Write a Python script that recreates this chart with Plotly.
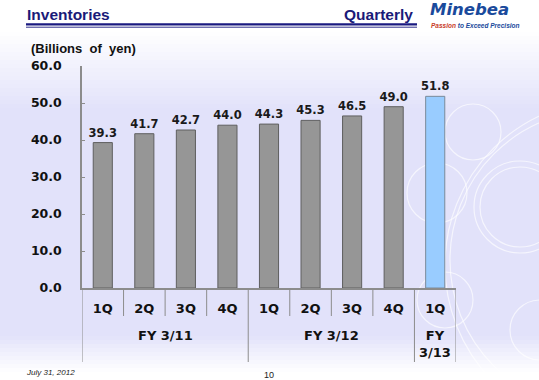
import plotly.graph_objects as go

fiscal_years = ["FY 3/11"] * 4 + ["FY 3/12"] * 4 + ["FY<br>3/13"]
quarters = ["1Q", "2Q", "3Q", "4Q", "1Q", "2Q", "3Q", "4Q", "1Q"]
inventories = [39.3, 41.7, 42.7, 44.0, 44.3, 45.3, 46.5, 49.0, 51.8]
bar_colors = ["#969696"] * 8 + ["#99ccff"]
line_colors = ["#5f5f5f"] * 8 + ["#7a8a9a"]

categories = [f"{fy} {q}" for fy, q in zip(fiscal_years, quarters)]

W, H = 539, 380
X0, X1, YT, YB = 82, 456, 66, 288
AXFONT = "DejaVu Sans"


def px(x):
    return (x - X0) / (X1 - X0)


def py(y):
    return (YB - y) / (YB - YT)


fig = go.Figure()
fig.add_trace(go.Bar(
    x=categories,
    y=inventories,
    marker=dict(color=bar_colors, line=dict(color=line_colors, width=1)),
    text=[f"{v:.1f}" for v in inventories],
    textposition="outside",
    constraintext="none",
    textfont=dict(family=AXFONT, size=11.5, color="#1a1a1a", weight="bold"),
    cliponaxis=False,
    hoverinfo="skip",
))

shapes = []


def lerp(c1, c2, t):
    return tuple(round(a + (b - a) * t) for a, b in zip(c1, c2))


white = (255, 255, 255)
lav = (226, 226, 250)
stops = [(0, white), (30, white), (110, lav), (335, lav), (372, white), (380, white)]
step = 4
y = 0
while y < H:
    c = white
    for (ya, ca), (yb, cb) in zip(stops[:-1], stops[1:]):
        if ya <= y + step / 2 <= yb:
            c = lerp(ca, cb, (y + step / 2 - ya) / max(yb - ya, 1))
            break
    shapes.append(dict(type="rect", xref="paper", yref="paper",
                       x0=px(0), x1=px(W), y0=py(y + step + 0.5), y1=py(y),
                       fillcolor="rgb(%d,%d,%d)" % c, line=dict(width=0), layer="below"))
    y += step

# decorative circles
for cx, cy, r in [(473, 132, 28), (520, 207, 40), (520, 207, 46), (437, 193, 30),
                  (445, 300, 28), (540, 330, 30), (600, 260, 150), (610, 265, 165)]:
    shapes.append(dict(type="circle", xref="paper", yref="paper",
                       x0=px(cx - r), x1=px(cx + r), y0=py(cy + r), y1=py(cy - r),
                       line=dict(color="rgba(255,255,255,0.65)", width=1.2), layer="below"))

# title underline
shapes.append(dict(type="line", xref="paper", yref="paper", x0=px(26), x1=px(417),
                   y0=py(24.3), y1=py(24.3), line=dict(color="#1a1a80", width=2.2)))
shapes.append(dict(type="line", xref="paper", yref="paper", x0=px(26), x1=px(417),
                   y0=py(27.2), y1=py(27.2), line=dict(color="#1a1a80", width=0.9)))

# category dividers (short) and fiscal-year dividers (long)
n = len(categories)
for i in range(n + 1):
    group_edge = i == 0 or i == n or fiscal_years[i] != fiscal_years[i - 1]
    shapes.append(dict(type="line", xref="x", yref="paper", x0=i - 0.5, x1=i - 0.5,
                       y0=0, y1=py(362 if group_edge else 316),
                       line=dict(color="#8c8c8c", width=1)))

annotations = [
    dict(text="<b>Inventories</b>", x=px(25), y=py(25), xanchor="left", yanchor="bottom",
         font=dict(family="Liberation Sans", size=15.5, color="#1a1a78")),
    dict(text="<b>Quarterly</b>", x=px(415), y=py(25), xanchor="right", yanchor="bottom",
         font=dict(family="Liberation Sans", size=15.5, color="#1a1a78")),
    dict(text="<b><i>Minebea</i></b>", x=px(428), y=py(21.5), xanchor="left", yanchor="bottom",
         font=dict(family="DejaVu Sans", size=16.5, color="#1a4a9c")),
    dict(text="<b><i><span style='color:#c8402a'>Passion</span> to Exceed Precision</i></b>",
         x=px(429), y=py(25.5), xanchor="left", yanchor="middle",
         font=dict(family="Liberation Sans", size=6.5, color="#1a4a9c")),
    dict(text="<b>(Billions  of  yen)</b>", x=px(29), y=py(49), xanchor="left", yanchor="middle",
         font=dict(family="Liberation Sans", size=13, color="#111111")),
    dict(text="<i>July 31, 2012</i>", x=px(24), y=py(372), xanchor="left", yanchor="middle",
         font=dict(family="Liberation Sans", size=8, color="#222222")),
    dict(text="10", x=px(269), y=py(375), xanchor="center", yanchor="middle",
         font=dict(family="Liberation Sans", size=9, color="#222222")),
]
for a in annotations:
    a.update(xref="paper", yref="paper")

# fiscal-year group labels, centred under their quarters
groups = []
for i, fy in enumerate(fiscal_years):
    if not groups or groups[-1][0] != fy:
        groups.append([fy, []])
    groups[-1][1].append(i)
for fy, idx in groups:
    lines = fy.count("<br>") + 1
    annotations.append(dict(
        text=f"<b>{fy}</b>", xref="x", yref="paper",
        x=sum(idx) / len(idx), y=py(335 + 9 * (lines - 1)),
        xanchor="center", yanchor="middle",
        font=dict(family=AXFONT, size=13, color="#111111"),
    ))
for a in annotations:
    a["showarrow"] = False

fig.update_layout(
    width=W, height=H,
    margin=dict(l=X0, r=W - X1, t=YT, b=H - YB, autoexpand=False),
    paper_bgcolor="white",
    plot_bgcolor="rgba(0,0,0,0)",
    bargap=0.54,
    showlegend=False,
    shapes=shapes,
    annotations=annotations,
    xaxis=dict(
        type="category", automargin=False,
        tickvals=categories, ticktext=[f"<b>{q}</b>" for q in quarters],
        showline=True, linecolor="#8c8c8c", linewidth=1.5,
        ticks="", ticklabelstandoff=8,
        tickfont=dict(family=AXFONT, size=13, color="#111111"),
        showgrid=False, range=[-0.5, n - 0.5],
    ),
    yaxis=dict(
        range=[0, 60], dtick=10, tickformat=".1f", automargin=False,
        showline=True, linecolor="#8c8c8c", linewidth=1.5,
        ticks="inside", ticklen=3, tickcolor="#8c8c8c",
        showgrid=False, zeroline=False,
        tickfont=dict(family=AXFONT, size=12.5, color="#111111", weight="bold"),
        ticklabelstandoff=16,
    ),
)

fig.write_html("out.html", config={"displayModeBar": False},
               post_script="document.body.style.margin='0px';")
